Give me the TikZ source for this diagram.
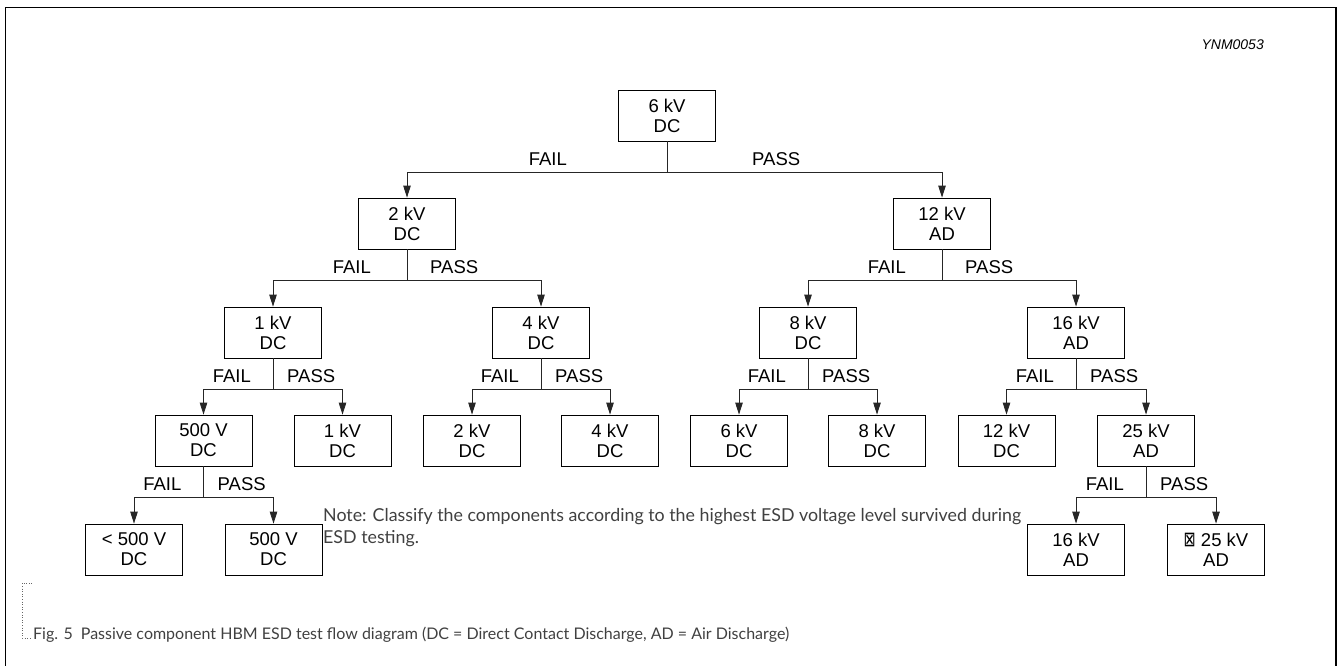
\documentclass[tikz,border=0pt]{standalone}
\usepackage{fontspec}
\usepackage{graphicx}
\setmainfont{Liberation Sans}
\newfontfamily\dejavu{DejaVu Sans}
\newfontfamily\gill{Lato}
\usetikzlibrary{arrows.meta}
\tikzset{
  box/.style={draw=black, line width=0.8pt, minimum width=97pt, minimum height=51pt,
    inner sep=0pt, align=center, font=\fontsize{18.5}{20}\selectfont},
  conn/.style={line width=0.8pt, black!85},
  arr/.style={conn, -{Triangle[length=12pt,width=7.5pt]}},
  lbl/.style={inner sep=0pt, font=\fontsize{18.5}{20}\selectfont},
  frame/.style={line width=1.4pt, black},
  notetext/.style={inner sep=0pt, align=left, text=black!75, font=\gill\fontsize{17.8}{21.5}\selectfont},
  captext/.style={inner sep=0pt, align=left, text=black!75, font=\gill\fontsize{16}{20}\selectfont}
}
\begin{document}
\begin{tikzpicture}[x=1pt,y=-1pt]
\useasboundingbox (0,0) rectangle (1343,666);
% frame (open at the bottom)
\draw[frame] (5.7,666) -- (5.7,7.3) -- (1336,7.3) -- (1336,666);
\node[anchor=base east, inner sep=0pt, font=\itshape\fontsize{14}{16}\selectfont] (code) at (1264,50) {YNM0053};

% level 0
\node[box] (n0) at (667,115.5) {6 kV\\DC};
% level 1
\node[box] (n1a) at (407,223.5) {2 kV\\DC};
\node[box] (n1b) at (942,223.5) {12 kV\\AD};
% level 2
\node[box] (n2a) at (273,332.5) {1 kV\\DC};
\node[box] (n2b) at (541,332.5) {4 kV\\DC};
\node[box] (n2c) at (808,332.5) {8 kV\\DC};
\node[box] (n2d) at (1076,332.5) {16 kV\\AD};
% level 3
\node[box] (n3a) at (203.5,440.5) {500 V\\DC};
\node[box] (n3b) at (342.5,440.5) {1 kV\\DC};
\node[box] (n3c) at (472,440.5) {2 kV\\DC};
\node[box] (n3d) at (610,440.5) {4 kV\\DC};
\node[box] (n3e) at (739,440.5) {6 kV\\DC};
\node[box] (n3f) at (877,440.5) {8 kV\\DC};
\node[box] (n3g) at (1006.5,440.5) {12 kV\\DC};
\node[box] (n3h) at (1146,440.5) {25 kV\\AD};
% level 4
\node[box] (n4a) at (134,549.5) {< 500 V\\DC};
\node[box] (n4b) at (273.5,549.5) {500 V\\DC};
\node[box] (n4c) at (1076,549.5) {16 kV\\AD};
\node[box] (n4d) at (1216,549.5) {{\dejavu\scalebox{0.78}[1.12]{⊠}} 25 kV\\AD};

% connectors
\draw[conn] (n0.south) -- ([yshift=-31pt]n0.south) coordinate (j0);
\draw[arr] (j0) -| (n1a.north); \draw[arr] (j0) -| (n1b.north);
\draw[conn] (n1a.south) -- ([yshift=-31pt]n1a.south) coordinate (j1a);
\draw[arr] (j1a) -| (n2a.north); \draw[arr] (j1a) -| (n2b.north);
\draw[conn] (n1b.south) -- ([yshift=-31pt]n1b.south) coordinate (j1b);
\draw[arr] (j1b) -| (n2c.north); \draw[arr] (j1b) -| (n2d.north);
\draw[conn] (n2a.south) -- ([yshift=-31pt]n2a.south) coordinate (j2a);
\draw[arr] (j2a) -| (n3a.north); \draw[arr] (j2a) -| (n3b.north);
\draw[conn] (n2b.south) -- ([yshift=-31pt]n2b.south) coordinate (j2b);
\draw[arr] (j2b) -| (n3c.north); \draw[arr] (j2b) -| (n3d.north);
\draw[conn] (n2c.south) -- ([yshift=-31pt]n2c.south) coordinate (j2c);
\draw[arr] (j2c) -| (n3e.north); \draw[arr] (j2c) -| (n3f.north);
\draw[conn] (n2d.south) -- ([yshift=-31pt]n2d.south) coordinate (j2d);
\draw[arr] (j2d) -| (n3g.north); \draw[arr] (j2d) -| (n3h.north);
\draw[conn] (n3a.south) -- ([yshift=-31pt]n3a.south) coordinate (j3a);
\draw[arr] (j3a) -| (n4a.north); \draw[arr] (j3a) -| (n4b.north);
\draw[conn] (n3h.south) -- ([yshift=-31pt]n3h.south) coordinate (j3h);
\draw[arr] (j3h) -| (n4c.north); \draw[arr] (j3h) -| (n4d.north);

% FAIL / PASS labels
\node[lbl, anchor=base east] (f0) at ([xshift=-100pt,yshift=7pt]j0) {FAIL};
\node[lbl, anchor=base west] (p0) at ([xshift=85pt,yshift=7pt]j0) {PASS};
\node[lbl, anchor=base east] (f1a) at ([xshift=-36pt,yshift=7pt]j1a) {FAIL};
\node[lbl, anchor=base west] (p1a) at ([xshift=23pt,yshift=7pt]j1a) {PASS};
\node[lbl, anchor=base east] (f1b) at ([xshift=-36pt,yshift=7pt]j1b) {FAIL};
\node[lbl, anchor=base west] (p1b) at ([xshift=23pt,yshift=7pt]j1b) {PASS};
\foreach \j in {j2a,j2b,j2c,j2d,j3a,j3h}{
  \node[lbl, anchor=base east] (f\j) at ([xshift=-22pt,yshift=7pt]\j) {FAIL};
  \node[lbl, anchor=base west] (p\j) at ([xshift=14pt,yshift=7pt]\j) {PASS};
}

% note (anchor at baseline of its last line)
\node[notetext, anchor=base west] (note) at (323,543)
  {Note: Classify the components according to the highest ESD voltage level survived during\\ESD testing.};

% caption with dotted bracket
\draw[black!60, line width=0.6pt, dotted] (32,583) -- (22,583) -- (22,638) -- (32,638);
\node[captext, anchor=base west] (cap) at (33,639)
  {Fig. 5\hspace{8pt}Passive component HBM ESD test flow diagram (DC = Direct Contact Discharge, AD = Air Discharge)};
\end{tikzpicture}
\end{document}
